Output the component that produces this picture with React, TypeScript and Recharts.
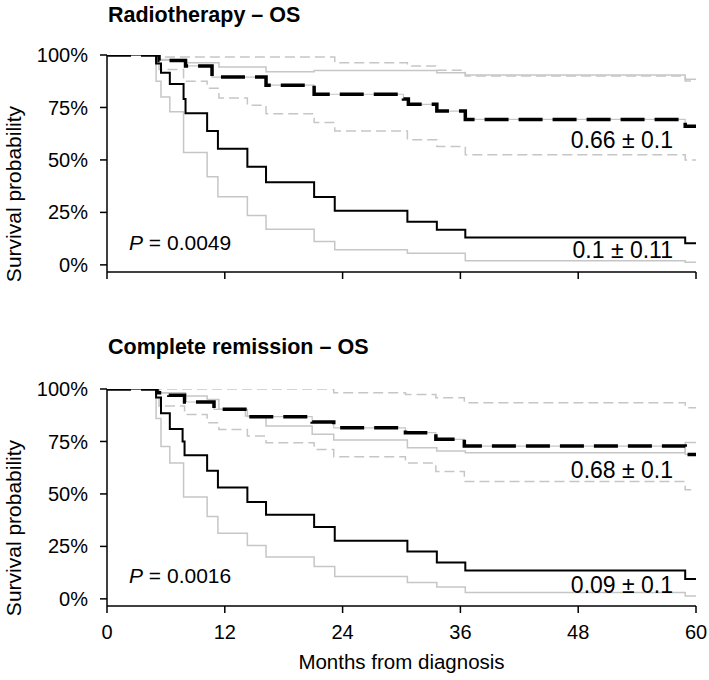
import React from 'react';
import { LineChart, Line, XAxis, YAxis } from 'recharts';

// Radiotherapy – OS (months, survival)
const rtSolidT = [0, 5.0, 5.5, 6.4, 7.8, 8.0, 10.2, 11.3, 14.3, 16.2, 21.1, 23.2, 30.6, 33.6, 36.5, 58.9, 60];
const rtSolidS = [1, 0.96, 0.915, 0.862, 0.79, 0.723, 0.638, 0.553, 0.467, 0.394, 0.323, 0.258, 0.206, 0.167, 0.13, 0.103, 0.103];
const rtSolidLoT = [0, 5.0, 5.5, 6.4, 7.8, 10.2, 11.3, 14.3, 16.2, 21.1, 23.2, 30.6, 36.5, 58.9, 60];
const rtSolidLoS = [1, 0.875, 0.8, 0.73, 0.535, 0.42, 0.325, 0.235, 0.17, 0.111, 0.072, 0.055, 0.02, 0.013, 0.013];
const rtSolidHiT = [0, 5.3, 8.0, 11.4, 16.2, 21.1, 33.6, 36.5, 58.9, 60];
const rtSolidHiS = [1, 0.979, 0.963, 0.943, 0.92, 0.926, 0.916, 0.905, 0.884, 0.884];
const rtDashT = [0, 5.3, 8.0, 10.7, 16.2, 21.1, 30.2, 30.7, 33.6, 36.5, 58.9, 60];
const rtDashS = [1, 0.974, 0.948, 0.895, 0.856, 0.813, 0.79, 0.765, 0.733, 0.693, 0.661, 0.661];
const rtDashHiT = [0, 5.3, 23.2, 30.6, 33.6, 36.5, 58.9, 60];
const rtDashHiS = [1, 0.99, 0.963, 0.948, 0.927, 0.9, 0.876, 0.876];
const rtDashLoT = [0, 5.3, 7.8, 10.2, 11.4, 14.3, 16.2, 21.1, 23.2, 30.6, 33.6, 36.5, 58.9, 60];
const rtDashLoS = [1, 0.931, 0.875, 0.842, 0.795, 0.76, 0.72, 0.678, 0.638, 0.596, 0.564, 0.525, 0.5, 0.5];

// Complete remission – OS
const crSolidT = [0, 5.0, 5.5, 6.4, 7.7, 7.9, 10.2, 11.3, 14.3, 16.2, 21.1, 23.2, 30.6, 33.6, 36.5, 58.9, 60];
const crSolidS = [1, 0.96, 0.885, 0.809, 0.75, 0.684, 0.611, 0.531, 0.461, 0.401, 0.342, 0.277, 0.226, 0.173, 0.135, 0.095, 0.095];
const crSolidLoT = [0, 5.0, 5.5, 6.4, 7.8, 10.2, 11.3, 14.3, 16.2, 21.1, 23.2, 30.6, 33.6, 36.5, 58.9, 60];
const crSolidLoS = [1, 0.86, 0.726, 0.647, 0.485, 0.392, 0.313, 0.254, 0.199, 0.154, 0.106, 0.078, 0.056, 0.03, 0.014, 0.014];
const crSolidHiT = [0, 5.3, 8.0, 10.2, 11.4, 14.1, 16.2, 20.9, 23.1, 30.6, 33.6, 36.5, 58.9, 60];
const crSolidHiS = [1, 0.982, 0.967, 0.95, 0.903, 0.871, 0.824, 0.784, 0.757, 0.72, 0.704, 0.696, 0.745, 0.745];
const crDashT = [0, 5.1, 6.3, 7.9, 10.9, 14.3, 20.9, 23.1, 30.4, 33.5, 36.4, 58.9, 60];
const crDashS = [1, 0.982, 0.97, 0.938, 0.903, 0.868, 0.843, 0.815, 0.792, 0.76, 0.728, 0.688, 0.688];
const crDashHiT = [0, 23.1, 30.4, 33.5, 36.4, 58.9, 60];
const crDashHiS = [1, 0.982, 0.974, 0.958, 0.935, 0.911, 0.911];
const crDashLoT = [0, 5.3, 7.9, 10.2, 11.4, 14.3, 16.2, 21.1, 23.1, 30.4, 33.5, 36.4, 58.9, 60];
const crDashLoS = [1, 0.919, 0.879, 0.839, 0.807, 0.776, 0.744, 0.712, 0.677, 0.647, 0.607, 0.559, 0.52, 0.52];

const monthTicks = [0, 12, 24, 36, 48, 60];
const survTicks = [0, 0.25, 0.5, 0.75, 1];

const toPts = (t: number[], s: number[]) => t.map((v, i) => ({ t: v, s: s[i] }));

const FONT = '"Liberation Sans", Arial, Helvetica, sans-serif';
const GRAY = '#c6c6c6';

interface PanelProps {
  solid: { t: number; s: number }[];
  solidLo: { t: number; s: number }[];
  solidHi: { t: number; s: number }[];
  dash: { t: number; s: number }[];
  dashLo: { t: number; s: number }[];
  dashHi: { t: number; s: number }[];
  showX: boolean;
  height: number;
}

const Panel = ({ solid, solidLo, solidHi, dash, dashLo, dashHi, showX, height }: PanelProps) => {
  const axisStyle = { stroke: '#000', strokeWidth: 1.5 };
  return (
    <LineChart width={709} height={height} margin={{ top: 55, right: 13, bottom: 0, left: 0 }}>
      <XAxis
        type="number"
        dataKey="t"
        domain={[0, 60]}
        ticks={monthTicks}
        allowDataOverflow
        height={height - 272}
        axisLine={axisStyle}
        tickLine={axisStyle}
        tickSize={7}
        tickMargin={12}
        tick={{ fontSize: 20, fill: '#000' }}
        tickFormatter={(v: number) => (showX ? `${v}` : '')}
        label={showX ? { value: 'Months from diagnosis', position: 'insideBottom', offset: 11, fontSize: 20.5, fill: '#000' } : undefined}
      />
      <YAxis
        type="number"
        domain={[-0.034, 1]}
        ticks={survTicks}
        allowDataOverflow
        width={107}
        axisLine={axisStyle}
        tickLine={axisStyle}
        tickSize={7}
        tickMargin={12}
        tick={{ fontSize: 20, fill: '#000' }}
        tickFormatter={(v: number) => `${Math.round(v * 100)}%`}
      />
      <Line data={dashHi} dataKey="s" type="stepAfter" stroke={GRAY} strokeWidth={1.5} strokeDasharray="10 5" dot={false} isAnimationActive={false} />
      <Line data={dashLo} dataKey="s" type="stepAfter" stroke={GRAY} strokeWidth={1.5} strokeDasharray="10 5" dot={false} isAnimationActive={false} />
      <Line data={solidHi} dataKey="s" type="stepAfter" stroke={GRAY} strokeWidth={1.5} dot={false} isAnimationActive={false} />
      <Line data={solidLo} dataKey="s" type="stepAfter" stroke={GRAY} strokeWidth={1.5} dot={false} isAnimationActive={false} />
      <Line data={solid} dataKey="s" type="stepAfter" stroke="#000" strokeWidth={2} dot={false} isAnimationActive={false} />
      <Line data={dash} dataKey="s" type="stepAfter" stroke={GRAY} strokeWidth={1.2} dot={false} isAnimationActive={false} />
      <Line data={dash} dataKey="s" type="stepAfter" stroke="#000" strokeWidth={3.5} strokeDasharray="24 10" dot={false} isAnimationActive={false} />
    </LineChart>
  );
};

const App = () => {
  return (
    <div style={{ position: 'absolute', left: 0, top: 0, width: 709, height: 680, background: '#fff', fontFamily: FONT }}>
      <div style={{ position: 'absolute', left: 0, top: 0 }}>
        <Panel
          solid={toPts(rtSolidT, rtSolidS)}
          solidLo={toPts(rtSolidLoT, rtSolidLoS)}
          solidHi={toPts(rtSolidHiT, rtSolidHiS)}
          dash={toPts(rtDashT, rtDashS)}
          dashLo={toPts(rtDashLoT, rtDashLoS)}
          dashHi={toPts(rtDashHiT, rtDashHiS)}
          showX={false}
          height={290}
        />
      </div>
      <div style={{ position: 'absolute', left: 0, top: 334 }}>
        <Panel
          solid={toPts(crSolidT, crSolidS)}
          solidLo={toPts(crSolidLoT, crSolidLoS)}
          solidHi={toPts(crSolidHiT, crSolidHiS)}
          dash={toPts(crDashT, crDashS)}
          dashLo={toPts(crDashLoT, crDashLoS)}
          dashHi={toPts(crDashHiT, crDashHiS)}
          showX={true}
          height={346}
        />
      </div>
      <svg width={709} height={680} style={{ position: 'absolute', left: 0, top: 0, pointerEvents: 'none' }} fontFamily={FONT}>
        <text x={108} y={22} fontSize={21.5} fontWeight="bold">Radiotherapy – OS</text>
        <text x={108} y={354} fontSize={21.5} fontWeight="bold">Complete remission – OS</text>
        <text transform="translate(21,194) rotate(-90)" textAnchor="middle" fontSize={21}>Survival probability</text>
        <text transform="translate(21,528) rotate(-90)" textAnchor="middle" fontSize={21}>Survival probability</text>
        <text x={129} y={250} fontSize={21}><tspan fontStyle="italic">P</tspan> = 0.0049</text>
        <text x={129} y={583} fontSize={21}><tspan fontStyle="italic">P</tspan> = 0.0016</text>
        <text x={673} y={148} fontSize={23} textAnchor="end">0.66 ± 0.1</text>
        <text x={673} y={258} fontSize={23} textAnchor="end">0.1 ± 0.11</text>
        <text x={673} y={478} fontSize={23} textAnchor="end">0.68 ± 0.1</text>
        <text x={673} y={593} fontSize={23} textAnchor="end">0.09 ± 0.1</text>
      </svg>
    </div>
  );
};

export default App;
